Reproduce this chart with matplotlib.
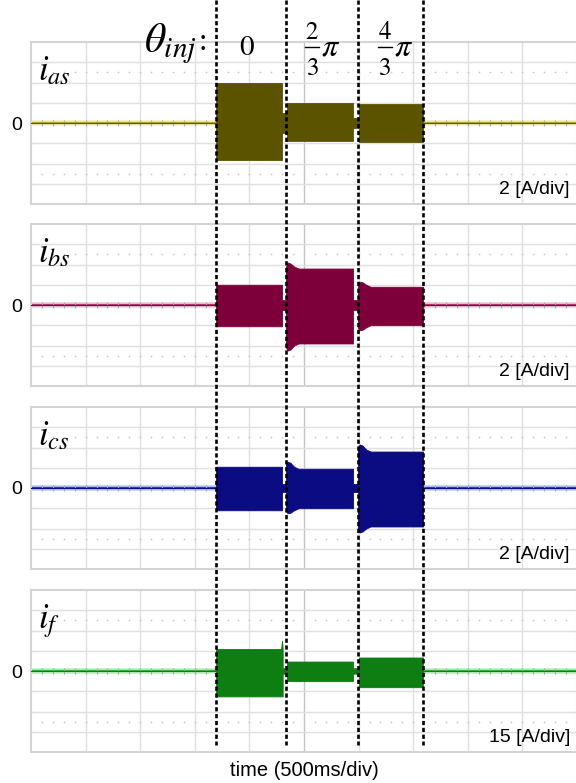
import matplotlib
matplotlib.use('Agg')
import matplotlib.pyplot as plt
from matplotlib.lines import Line2D
import numpy as np

plt.rcParams['mathtext.fontset'] = 'stix'
plt.rcParams['font.family'] = ['Liberation Sans', 'DejaVu Sans']

# time axis: 10 div x 500 ms
t_max = 5.0
# injection angle boundaries (s)
t_inj = [1.694, 2.335, 2.995, 3.590]
# injection angle labels: 0, 2/3 pi, 4/3 pi
frac_num = ['2', '4']
frac_den = ['3', '3']

# envelopes of the bursts (A)
ias_t  = [0.0, 1.694, 1.694, 2.299, 2.299, 2.344, 2.344, 2.949, 2.949, 3.004, 3.004, 3.590, 3.590, 5.0]
ias_hi = [0.0, 0.0, 4.0, 4.0, 1.0, 1.0, 2.0, 2.0, 0.5, 0.5, 1.9, 1.9, 0.0, 0.0]
ias_lo = [0.0, 0.0, -3.7, -3.7, -1.0, -1.0, -1.8, -1.8, -0.5, -0.5, -1.9, -1.9, 0.0, 0.0]

ibs_t  = [0.0, 1.694, 1.694, 2.299, 2.299, 2.335, 2.335, 2.350, 2.375, 2.410, 2.450, 2.949, 2.949,
          2.995, 2.995, 3.010, 3.035, 3.070, 3.110, 3.590, 3.590, 5.0]
ibs_hi = [0.0, 0.0, 2.0, 2.0, 0.5, 0.5, 3.8, 4.2, 4.1, 3.8, 3.6, 3.6, 0.5,
          0.5, 2.1, 2.3, 2.25, 2.0, 1.8, 1.8, 0.0, 0.0]
ibs_lo = [0.0, 0.0, -2.1, -2.1, -0.5, -0.5, -4.2, -4.5, -4.4, -4.0, -3.8, -3.8, -0.5,
          -0.5, -2.3, -2.5, -2.45, -2.2, -2.0, -2.0, 0.0, 0.0]

ics_t  = [0.0, 1.694, 1.694, 2.299, 2.299, 2.335, 2.335, 2.350, 2.375, 2.410, 2.450, 2.949, 2.949,
          2.995, 2.995, 3.010, 3.035, 3.070, 3.110, 3.590, 3.590, 5.0]
ics_hi = [0.0, 0.0, 2.1, 2.1, 0.4, 0.4, 2.4, 2.6, 2.5, 2.1, 1.9, 1.9, 0.4,
          0.4, 4.1, 4.3, 4.2, 3.8, 3.6, 3.6, 0.0, 0.0]
ics_lo = [0.0, 0.0, -2.2, -2.2, -0.4, -0.4, -2.3, -2.5, -2.45, -2.2, -2.0, -2.0, -0.4,
          -0.4, -4.2, -4.4, -4.3, -4.0, -3.8, -3.8, 0.0, 0.0]

if_t  = [0.0, 1.694, 1.694, 2.290, 2.299, 2.305, 2.305, 2.344, 2.344, 2.949, 2.949,
         3.004, 3.004, 3.590, 3.590, 5.0]
if_hi = [0.0, 0.0, 16.3, 16.3, 22.5, 16.3, 2.0, 2.0, 7.0, 7.0, 2.0,
         2.0, 10.0, 10.0, 0.0, 0.0]
if_lo = [0.0, 0.0, -18.8, -18.8, -18.8, -18.8, -2.0, -2.0, -7.5, -7.5, -2.0,
         -2.0, -12.0, -12.0, 0.0, 0.0]

names = [r'$i_{as}$', r'$i_{bs}$', r'$i_{cs}$', r'$i_f$']
scales = [2, 2, 2, 15]          # A/div
scale_txt = ['2 [A/div]', '2 [A/div]', '2 [A/div]', '15 [A/div]']
fill_col = ['#5b5300', '#7d003a', '#0c0c82', '#0e7d12']
line_col = ['#b3aa26', '#b8386e', '#2838d0', '#28b828']
glow_col = ['#e2dc70', '#e090b0', '#8090f0', '#80dc80']
envs = [(ias_t, ias_hi, ias_lo), (ibs_t, ibs_hi, ibs_lo),
        (ics_t, ics_hi, ics_lo), (if_t, if_hi, if_lo)]

W, H = 576, 783
fig = plt.figure(figsize=(W/100, H/100), dpi=100)
tops = [42, 224, 407, 590]
ph = 162
x0, pw = 31, 546

def fx(px):
    return px/W

def fy(py):
    return 1-py/H

for k in range(4):
    ax = fig.add_axes([x0/W, 1-(tops[k]+ph)/H, pw/W, ph/H])
    s = scales[k]
    ax.set_xlim(0, t_max)
    ax.set_ylim(-4*s, 4*s)
    ax.set_xticks([])
    ax.set_yticks([])
    for sp in ax.spines.values():
        sp.set_color('#d4d4d4')
        sp.set_linewidth(1.5)
    # graticule
    for j in range(1, 10):
        c = '#c4c4c4' if j == 5 else '#e0e0e0'
        ax.axvline(j*0.5, color=c, lw=1.0, zorder=0)
    for j in [-3, -2, -1, 1, 2, 3]:
        ax.axhline(j*s, color='#e0e0e0', lw=1.0, zorder=0)
    dots = np.arange(0.1, t_max, 0.1)
    for yy in [2.5*s, -2.5*s]:
        ax.scatter(dots, np.full(len(dots), yy), s=1.5, color='#c8c8c8', lw=0, zorder=0)
    # trace
    ax.axhline(0, color=glow_col[k], lw=4, alpha=0.5, zorder=1)
    ax.axhline(0, color=line_col[k], lw=1.6, zorder=2)
    ax.scatter(dots, np.zeros(len(dots)), marker='|', s=14, color='#a8a8a8', lw=0.8, zorder=2)
    tt, hi, lo = envs[k]
    ax.fill_between(tt, lo, hi, color=fill_col[k], lw=0.6, edgecolor=fill_col[k], zorder=3)
    # texts
    ax.text(0.012, 0.765, names[k], transform=ax.transAxes, fontsize=25,
            va='baseline', ha='left')
    ax.text(-0.027, 0.5, '0', transform=ax.transAxes, fontsize=14,
            va='center_baseline', ha='center')
    ax.text(0.987, 0.06, scale_txt[k], transform=ax.transAxes, fontsize=14,
            va='baseline', ha='right')

# dashed markers over all panels
ov = fig.add_axes([x0/W, 0, pw/W, 1])
ov.set_xlim(0, t_max)
ov.set_ylim(H, 0)
ov.axis('off')
ov.patch.set_alpha(0)
ov.vlines(t_inj, 0, 745, colors='k', linestyles=(0, (1.6, 1.0)), lw=1.9, zorder=10)

# header
fig.text(fx(144), fy(52), r'$\theta_{inj}$', fontsize=30, ha='left', va='baseline')
fig.text(fx(203), fy(50), ':', fontsize=22, family='Liberation Serif', ha='center', va='baseline')
mid = [(t_inj[i]+t_inj[i+1])/2 for i in range(3)]
mid_px = [x0 + m/t_max*pw for m in mid]
fig.text(fx(mid_px[0]-4), fy(55), r'$0$', fontsize=21, ha='center', va='baseline')
for i in range(2):
    cx = mid_px[i+1] - (10 if i == 0 else 6)
    fig.text(fx(cx), fy(39), '$%s$' % frac_num[i], fontsize=18, ha='center', va='baseline')
    fig.text(fx(cx), fy(75), '$%s$' % frac_den[i], fontsize=18, ha='center', va='baseline')
    fig.add_artist(Line2D([fx(cx-7), fx(cx+7)], [fy(47), fy(47)], color='k', lw=1.0))
    fig.text(fx(cx+9), fy(55), r'$\pi$', fontsize=23, ha='left', va='baseline')

fig.text(fx(304), fy(776), 'time (500ms/div)', fontsize=14.5, ha='center', va='baseline')

plt.savefig('out.png', dpi=100)
